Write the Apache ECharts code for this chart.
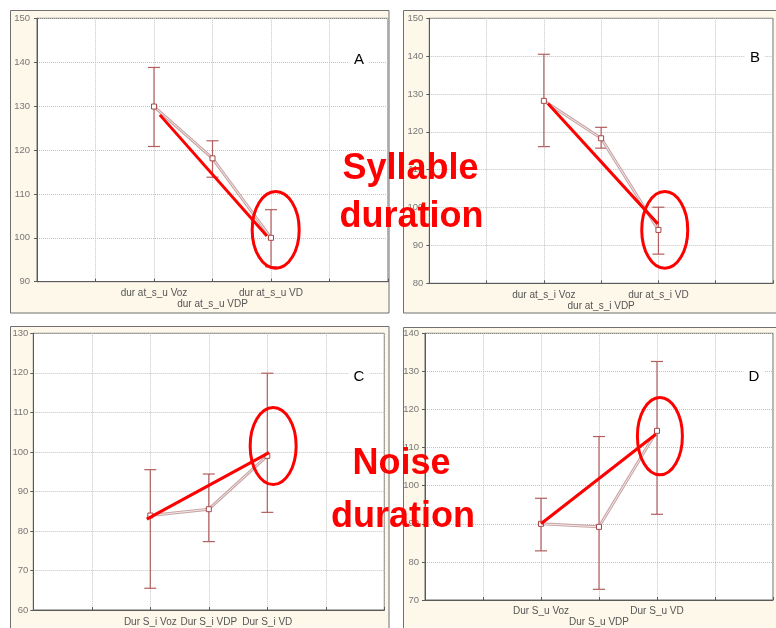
<!DOCTYPE html>
<html>
<head>
<meta charset="utf-8">
<script src="https://cdn.jsdelivr.net/npm/echarts@6/dist/echarts.min.js"></script>
<style>
  html, body { margin: 0; padding: 0; background: #ffffff; }
  #chart { width: 776px; height: 628px; }
</style>
</head>
<body>
<div id="chart"></div>
<script>
// Positions of the three conditions on each panel's 0–6 horizontal scale
const catPos = [2, 3, 4];

// Panel A – syllable duration (dur at_s_u)
const catsA = ['dur at_s_u Voz', 'dur at_s_u VDP', 'dur at_s_u VD'];
const meanA = [129.9, 118.1, 100.0];
const lowA = [120.8, 113.8, 93.4];
const highA = [138.8, 122.1, 106.4];
const trendA = [[2.1, 128.0], [3.93, 100.4]];
const focusA = [4.08, 101.8];

// Panel B – syllable duration (dur at_s_i)
const catsB = ['dur at_s_i Voz', 'dur at_s_i VDP', 'dur at_s_i VD'];
const meanB = [128.2, 118.3, 94.1];
const lowB = [116.1, 115.7, 87.7];
const highB = [140.5, 121.2, 100.1];
const trendB = [[2.07, 127.5], [3.99, 95.7]];
const focusB = [4.11, 94.1];

// Panel C – noise duration (Dur S_i)
const catsC = ['Dur S_i Voz', 'Dur S_i VDP', 'Dur S_i VD'];
const meanC = [83.9, 85.5, 99.0];
const lowC = [65.5, 77.3, 84.7];
const highC = [95.5, 94.4, 119.9];
const trendC = [[1.94, 83.0], [4.03, 99.8]];
const focusC = [4.1, 101.5];

// Panel D – noise duration (Dur S_u)
const catsD = ['Dur S_u Voz', 'Dur S_u VDP', 'Dur S_u VD'];
const meanD = [90.0, 89.2, 114.4];
const lowD = [82.9, 72.8, 92.5];
const highD = [96.7, 112.9, 132.6];
const trendD = [[2.0, 90.0], [3.98, 113.5]];
const focusD = [4.05, 113.0];

// Y-axis ranges per panel
const yRangeA = [90, 150];
const yRangeB = [80, 150];
const yRangeC = [60, 130];
const yRangeD = [70, 140];

// Panel letters and the two annotation headings
const panelTags = ['A', 'B', 'C', 'D'];
const headingTop = ['Syllable', 'duration'];
const headingBottom = ['Noise', 'duration'];

const panels = [
  { cats: catsA, mean: meanA, low: lowA, high: highA, trend: trendA, focus: focusA, y: yRangeA },
  { cats: catsB, mean: meanB, low: lowB, high: highB, trend: trendB, focus: focusB, y: yRangeB },
  { cats: catsC, mean: meanC, low: lowC, high: highC, trend: trendC, focus: focusC, y: yRangeC },
  { cats: catsD, mean: meanD, low: lowD, high: highD, trend: trendD, focus: focusD, y: yRangeD }
];

// Placement of each panel on the page
const layout = [
  { grid: { left: 37, top: 18.3, width: 351, height: 263.4 }, frame: [10.5, 10.5, 378.5, 302.5], tag: [359, 60], stagger: true, yMargin: 7, xMargin: 6, ell: [23.5, 38.3] },
  { grid: { left: 429.3, top: 18.3, width: 350, height: 265 }, frame: [403.5, 10.5, 380, 302.5], tag: [755, 58], stagger: true, yMargin: 6, xMargin: 6, ell: [23, 38.3] },
  { grid: { left: 33.3, top: 333.3, width: 351, height: 276.7 }, frame: [10.5, 326.5, 378.5, 310], tag: [359, 377], stagger: false, yMargin: 5, xMargin: 7, ell: [23, 38.5] },
  { grid: { left: 425, top: 333.3, width: 353, height: 266.7 }, frame: [403.5, 327.5, 380, 310], tag: [754, 377], stagger: true, yMargin: 6, xMargin: 6, ell: [22.5, 38.7] }
];

const FONT = '"Liberation Sans", Arial, sans-serif';
const BAR_COLOR = '#b35f5f';
const grids = [], xAxes = [], yAxes = [], series = [], graphics = [];

panels.forEach((p, i) => {
  const L = layout[i];
  grids.push(Object.assign({
    show: true, backgroundColor: '#ffffff', borderColor: '#6a6a6a', borderWidth: 1, containLabel: false
  }, L.grid));

  xAxes.push({
    type: 'value', gridIndex: i, min: 0, max: 6, interval: 1,
    axisLine: { show: true, onZero: false, lineStyle: { color: '#5a5a5a', width: 1 } },
    axisTick: { show: true, inside: true, length: 3, lineStyle: { color: '#5a5a5a' } },
    splitLine: { show: true, lineStyle: { type: 'dotted', color: '#c2c2c2', width: 1 } },
    axisLabel: {
      margin: L.xMargin, fontSize: 10, lineHeight: 11, color: '#555555', fontFamily: FONT,
      formatter: v => {
        const k = catPos.indexOf(v);
        if (k < 0) return '';
        return (L.stagger && k === 1) ? '\n' + p.cats[k] : p.cats[k];
      }
    }
  });

  yAxes.push({
    type: 'value', gridIndex: i, min: p.y[0], max: p.y[1], interval: 10,
    axisLine: { show: true, onZero: false, lineStyle: { color: '#5a5a5a', width: 1 } },
    axisTick: { show: true, length: 3, lineStyle: { color: '#5a5a5a' } },
    splitLine: { show: true, lineStyle: { type: 'dotted', color: '#c2c2c2', width: 1 } },
    axisLabel: { margin: L.yMargin, fontSize: 9.5, color: '#777777', fontFamily: FONT }
  });

  const pts = catPos.map((x, j) => [x, p.mean[j]]);

  // error bars: vertical whisker with short caps
  series.push({
    type: 'custom', xAxisIndex: i, yAxisIndex: i, silent: true,
    data: catPos.map((x, j) => [x, p.low[j], p.high[j]]),
    encode: { x: 0, y: [1, 2] },
    renderItem: (params, api) => {
      const x = api.value(0);
      const lo = api.coord([x, api.value(1)]);
      const hi = api.coord([x, api.value(2)]);
      const w = 6;
      const style = { stroke: BAR_COLOR, lineWidth: 1.2 };
      return {
        type: 'group', children: [
          { type: 'line', shape: { x1: lo[0], y1: lo[1], x2: hi[0], y2: hi[1] }, style },
          { type: 'line', shape: { x1: lo[0] - w, y1: lo[1], x2: lo[0] + w, y2: lo[1] }, style },
          { type: 'line', shape: { x1: hi[0] - w, y1: hi[1], x2: hi[0] + w, y2: hi[1] }, style }
        ]
      };
    }
  });

  // connecting line (outer stroke)
  series.push({
    type: 'line', xAxisIndex: i, yAxisIndex: i, silent: true, data: pts,
    symbol: 'none', lineStyle: { color: '#c9a5a5', width: 3 }
  });
  // connecting line (inner light stroke) with hollow square markers
  series.push({
    type: 'line', xAxisIndex: i, yAxisIndex: i, silent: true, data: pts,
    symbol: 'rect', symbolSize: 5,
    itemStyle: { color: '#ffffff', borderColor: '#a44848', borderWidth: 1 },
    lineStyle: { color: '#f3e8e8', width: 1 }
  });
  // red trend stroke
  series.push({
    type: 'line', xAxisIndex: i, yAxisIndex: i, silent: true, data: p.trend,
    symbol: 'none', z: 5, lineStyle: { color: '#ff0000', width: 3 }
  });
  // red ellipse around the last condition
  series.push({
    type: 'custom', xAxisIndex: i, yAxisIndex: i, silent: true, z: 5,
    data: [p.focus],
    renderItem: (params, api) => {
      const c = api.coord([api.value(0), api.value(1)]);
      return {
        type: 'ellipse',
        shape: { cx: c[0], cy: c[1], rx: L.ell[0], ry: L.ell[1] },
        style: { fill: 'none', stroke: '#ff0000', lineWidth: 3 }
      };
    }
  });

  // panel frame
  graphics.push({
    type: 'rect', z: -10, silent: true,
    shape: { x: L.frame[0], y: L.frame[1], width: L.frame[2], height: L.frame[3] },
    style: { fill: '#fdf8ea', stroke: '#707070', lineWidth: 1 }
  });
  // panel letter
  graphics.push({
    type: 'text', z: 50, x: L.tag[0], y: L.tag[1], silent: true,
    style: {
      text: panelTags[i], fill: '#000000', font: '15px ' + FONT,
      align: 'center', verticalAlign: 'middle', backgroundColor: '#ffffff', padding: [2, 5]
    }
  });
});

// headings
const headStyle = { fill: '#ff0000', font: 'bold 36px ' + FONT, align: 'center', verticalAlign: 'middle' };
[[headingTop[0], 410.5, 169.5], [headingTop[1], 411.5, 217.5],
 [headingBottom[0], 401.5, 464.5], [headingBottom[1], 403, 517.5]].forEach(h => {
  graphics.push({ type: 'text', z: 100, x: h[1], y: h[2], silent: true, style: Object.assign({ text: h[0] }, headStyle) });
});

const chart = echarts.init(document.getElementById('chart'), null, { renderer: 'canvas' });
chart.setOption({
  animation: false,
  backgroundColor: '#ffffff',
  grid: grids,
  xAxis: xAxes,
  yAxis: yAxes,
  series: series,
  graphic: { elements: graphics }
});
</script>
</body>
</html>
